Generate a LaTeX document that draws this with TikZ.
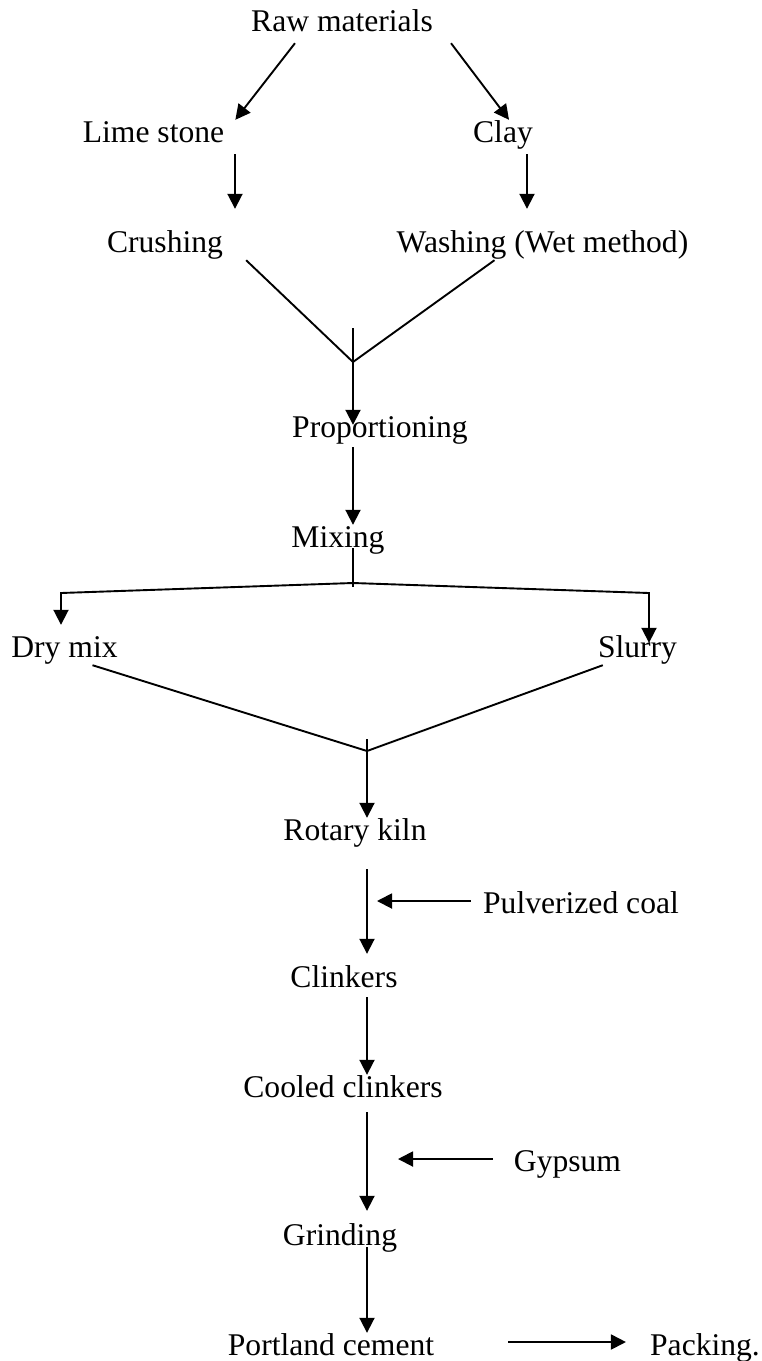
\documentclass[tikz,border=0pt]{standalone}
\usepackage{fontspec}
\setmainfont{Liberation Serif}
\usetikzlibrary{arrows.meta}
\tikzset{
  stage/.style={inner sep=0pt, anchor=base, text height=22pt, text depth=8pt,
    font=\fontsize{31.6}{36}\selectfont},
  link/.style={line width=1.9pt},
  flow/.style={link, -{Triangle[length=15pt,width=15pt]}}
}
\begin{document}
\begin{tikzpicture}[x=1pt,y=-1pt]
\useasboundingbox (0,0) rectangle (761,1361);
\node[stage] (raw) at (342,31) {Raw materials};
\node[stage] (lime) at (153.5,142) {Lime stone};
\node[stage] (clay) at (503,142) {Clay};
\node[stage] (crush) at (165,252) {Crushing};
\node[stage] (wash) at (542.5,252) {Washing (Wet method)};
\node[stage] (prop) at (380,437) {Proportioning};
\node[stage] (mix) at (338,547) {Mixing};
\node[stage] (dry) at (64.5,657) {Dry mix};
\node[stage] (slurry) at (637.5,657) {Slurry};
\node[stage] (rotary) at (355,840) {Rotary kiln};
\node[stage] (coal) at (581,913) {Pulverized coal};
\node[stage] (clink) at (344,987) {Clinkers};
\node[stage] (cooled) at (343,1097) {Cooled clinkers};
\node[stage] (gypsum) at (567.5,1171) {Gypsum};
\node[stage] (grind) at (340,1245) {Grinding};
\node[stage] (portland) at (331,1355) {Portland cement};
\node[stage] (packing) at (705,1355) {Packing.};
% columns and joints
\coordinate (lcol) at (235,0);
\coordinate (rcol) at (527,0);
\coordinate (kcol) at (367,0);
\coordinate (j1) at (353,362);
\coordinate (j1top) at (353,328);
\coordinate (split) at (353,583);
\coordinate (dryturn) at (61,593);
\coordinate (slurryturn) at (649,593);
\coordinate (j2) at (367,751);
\coordinate (j2top) at (367,739);
% raw material branch
\draw[flow] ([xshift=44pt,yshift=-4pt]raw.south west) -- ([xshift=11pt]lime.north east);
\draw[flow] ([xshift=18pt,yshift=-4pt]raw.south east) -- ([xshift=6pt]clay.north);
\draw[flow, shorten <=4pt, shorten >=21pt] (lime.south -| lcol) -- (crush.north -| lcol);
\draw[flow, shorten <=4pt, shorten >=21pt] (clay.south -| rcol) -- (wash.north -| rcol);
\draw[link] ([xshift=23pt]crush.south east) -- (j1) -- ([xshift=-48pt]wash.south);
\draw[flow, shorten >=-10pt] (j1top) -- (prop.north -| j1);
\draw[flow, shorten <=2pt] (prop.south -| j1) -- (mix.north -| j1);
% dry or wet process
\draw[link, shorten <=-7pt] (mix.south -| split) -- ([yshift=-4pt]split);
\draw[flow, shorten >=10pt] (split) -- (dryturn) -- (dry.north -| dryturn);
\draw[flow, shorten >=-8pt] (split) -- (slurryturn) -- (slurry.north -| slurryturn);
\draw[link] ([xshift=28pt]dry.south) -- (j2) -- ([xshift=5pt]slurry.south west);
% kiln and finishing
\draw[flow] (j2top) -- (rotary.north -| j2);
\draw[flow, shorten <=21pt, shorten >=11pt] (rotary.south -| kcol) -- (clink.north -| kcol);
\draw[flow, shorten <=12pt, shorten >=10pt] ([yshift=5pt]coal.west) -- ([yshift=5pt]coal.west -| kcol);
\draw[flow, shorten <=2pt] (clink.south -| kcol) -- (cooled.north -| kcol);
\draw[flow, shorten <=7pt, shorten >=12pt] (cooled.south -| kcol) -- (grind.north -| kcol);
\draw[flow, shorten <=21pt, shorten >=31pt] ([yshift=5pt]gypsum.west) -- ([yshift=5pt]gypsum.west -| kcol);
\draw[flow, shorten <=-6pt] (grind.south -| kcol) -- (portland.north -| kcol);
\draw[flow, shorten <=74pt, shorten >=24pt] ([yshift=6pt]portland.east) -- ([yshift=6pt]packing.west);
\end{tikzpicture}
\end{document}
